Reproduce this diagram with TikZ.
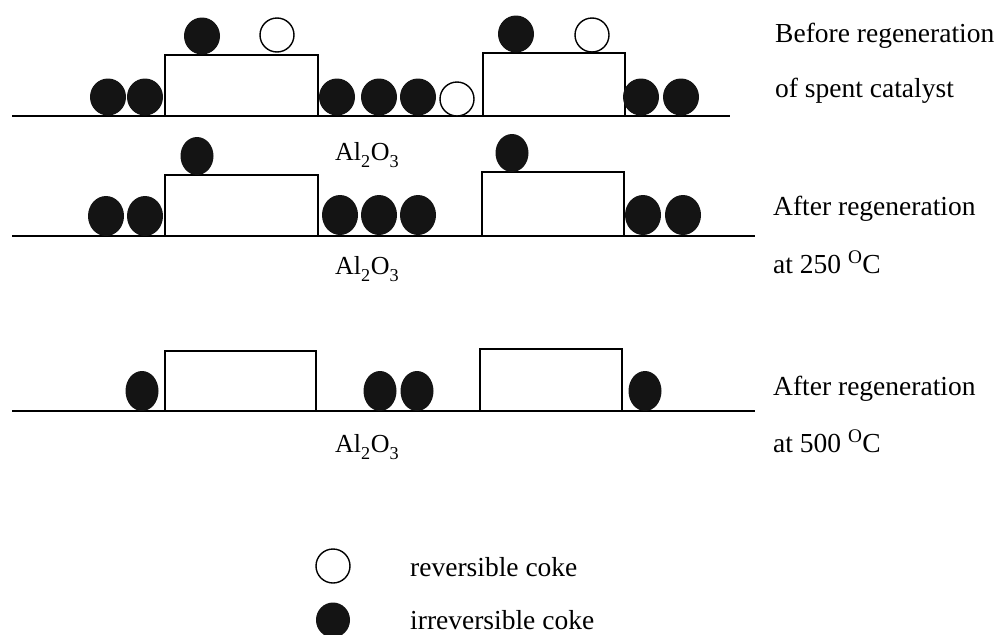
\documentclass[tikz,border=0pt]{standalone}
\usepackage{fontspec}
\setmainfont{Liberation Serif}
\usetikzlibrary{shapes.geometric}
\definecolor{cokeblack}{HTML}{141414}
\newcommand{\lowsub}[1]{\raisebox{-0.3ex}{\textsubscript{#1}}}
\tikzset{
  surf/.style={line width=1.3pt, black},
  fcoke/.style={ellipse, fill=cokeblack, draw=none, inner sep=0pt,
                minimum width=36pt, minimum height=37pt},
  rcoke/.style={circle, draw=black, line width=1.4pt, fill=white, inner sep=0pt,
                minimum size=34pt},
  lbl/.style={anchor=base west, inner sep=0pt, font=\fontsize{27.5}{32}\selectfont},
  chem/.style={anchor=base west, inner sep=0pt, font=\fontsize{26}{30}\selectfont}
}
\begin{document}
\begin{tikzpicture}[x=1pt, y=-1pt]
\useasboundingbox (0,0) rectangle (1005,635);

% ---------- stage 1: spent catalyst ----------
\draw[surf] (12,116) -- (730,116);
\draw[surf] (165,116) |- (318,55) -- (318,116);
\draw[surf] (483,116) |- (625,53) -- (625,116);
\node[fcoke] (a1) at (202,36) {};
\node[rcoke] (a2) at (277,35) {};
\node[fcoke] (a3) at (516,34) {};
\node[rcoke] (a4) at (592,35) {};
\node[fcoke] (a5) at (108,97) {};
\node[fcoke] (a6) at (145,97) {};
\node[fcoke] (a7) at (337,97) {};
\node[fcoke] (a8) at (379,97) {};
\node[fcoke] (a9) at (418,97) {};
\node[rcoke] (a10) at (457,99) {};
\node[fcoke] (a11) at (641,97) {};
\node[fcoke] (a12) at (681,97) {};
\node[lbl] (t1) at (775,42) {Before regeneration};
\node[lbl] (t2) at (775,97) {of spent catalyst};
\node[chem] (s1) at (335,160) {Al\lowsub{2}O\lowsub{3}};

% ---------- stage 2: regenerated at 250 C ----------
\draw[surf] (12,236) -- (755,236);
\draw[surf] (165,236) |- (318,175) -- (318,236);
\draw[surf] (482,236) |- (624,172) -- (624,236);
\node[fcoke, minimum width=33pt, minimum height=38pt] (b1) at (197,156) {};
\node[fcoke, minimum width=33pt, minimum height=38pt] (b2) at (512,153) {};
\node[fcoke, minimum height=40pt] (b3) at (106,216) {};
\node[fcoke, minimum height=40pt] (b4) at (145,216) {};
\node[fcoke, minimum height=40pt] (b5) at (340,215) {};
\node[fcoke, minimum height=40pt] (b6) at (379,215) {};
\node[fcoke, minimum height=40pt] (b7) at (418,215) {};
\node[fcoke, minimum height=40pt] (b8) at (643,215) {};
\node[fcoke, minimum height=40pt] (b9) at (683,215) {};
\node[lbl] (t3) at (773,215) {After regeneration};
\node[lbl] (t4) at (773,273) {at 250 \textsuperscript{O}C};
\node[chem] (s2) at (335,274) {Al\lowsub{2}O\lowsub{3}};

% ---------- stage 3: regenerated at 500 C ----------
\draw[surf] (12,411) -- (755,411);
\draw[surf] (165,411) |- (316,351) -- (316,411);
\draw[surf] (480,411) |- (622,349) -- (622,411);
\node[fcoke, minimum width=33pt, minimum height=40pt] (c1) at (142,391) {};
\node[fcoke, minimum width=33pt, minimum height=40pt] (c2) at (380,391) {};
\node[fcoke, minimum width=33pt, minimum height=40pt] (c3) at (417,391) {};
\node[fcoke, minimum width=33pt, minimum height=40pt] (c4) at (645,391) {};
\node[lbl] (t5) at (773,395) {After regeneration};
\node[lbl] (t6) at (773,452) {at 500 \textsuperscript{O}C};
\node[chem] (s3) at (335,452) {Al\lowsub{2}O\lowsub{3}};

% ---------- legend ----------
\node[rcoke] (k1) at (333,566) {};
\node[fcoke, minimum width=34pt, minimum height=35pt] (k2) at (333,620) {};
\node[lbl] (k1t) at (410,576) {reversible coke};
\node[lbl] (k2t) at (410,629) {irreversible coke};
\end{tikzpicture}
\end{document}
